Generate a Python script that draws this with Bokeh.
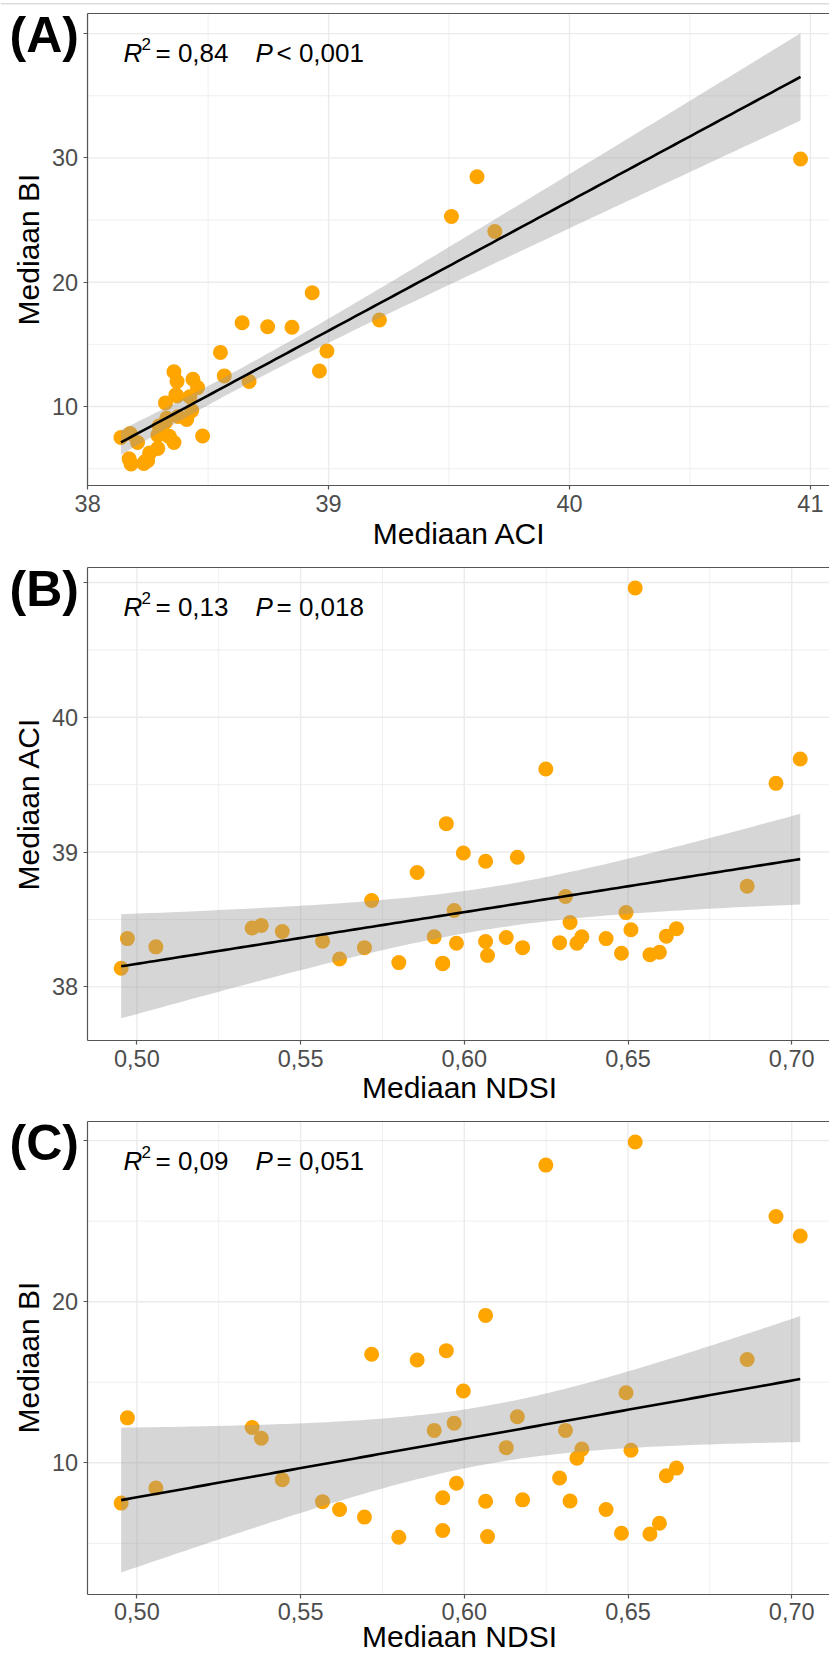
import math
import numpy as np
from bokeh.plotting import figure
from bokeh.models import Label, FixedTicker, CustomJSTickFormatter, LinearAxis, Span
from bokeh.layouts import column
from bokeh.embed import file_html
from bokeh.resources import INLINE

# ---------------- data (one entry per site) ----------------
ndsi = [0.4952, 0.4971, 0.5058, 0.5352, 0.5380, 0.5444, 0.5567, 0.5619, 0.5695, 0.5717,
        0.5800, 0.5856, 0.5908, 0.5934, 0.5934, 0.5945, 0.5969, 0.5976, 0.5997, 0.6065,
        0.6065, 0.6071, 0.6128, 0.6162, 0.6178, 0.6249, 0.6291, 0.6309, 0.6323, 0.6344,
        0.6359, 0.6433, 0.6480, 0.6494, 0.6509, 0.6522, 0.6567, 0.6596, 0.6617, 0.6648,
        0.6864, 0.6952, 0.7026]
aci = [38.138, 38.358, 38.297, 38.437, 38.456, 38.411, 38.339, 38.207, 38.291, 38.641,
       38.180, 38.848, 38.371, 38.172, 38.176, 39.211, 38.567, 38.323, 38.993, 38.932,
       38.336, 38.233, 38.366, 38.962, 38.291, 39.616, 38.328, 38.670, 38.477, 38.323,
       38.371, 38.358, 38.249, 38.551, 38.424, 40.959, 38.238, 38.257, 38.376, 38.432,
       38.747, 39.510, 39.690]
bi = [7.50, 12.79, 8.44, 12.19, 11.52, 8.95, 7.59, 7.10, 6.63, 16.74,
      5.38, 16.38, 12.01, 5.80, 7.83, 16.96, 12.46, 8.73, 14.46, 19.15,
      7.61, 5.42, 10.94, 12.86, 7.70, 28.48, 9.06, 12.01, 7.63, 10.29,
      10.85, 7.10, 5.63, 14.35, 10.78, 29.91, 5.58, 6.25, 9.20, 9.67,
      16.41, 25.29, 24.08]

# ticks
aci_ticks = [38, 39, 40, 41]
aci_minor = [38.5, 39.5, 40.5]
ndsi_ticks = [0.50, 0.55, 0.60, 0.65, 0.70]
ndsi_minor = [0.525, 0.575, 0.625, 0.675]
bi_ticks_a = [10, 20, 30, 40]
bi_minor_a = [5, 15, 25, 35]
bi_ticks_c = [10, 20, 30]
bi_minor_c = [5, 15, 25]

# axis limits of each panel (x0, x1, y0, y1)
lims_a = (37.998, 41.100, 3.62, 41.64)
lims_b = (0.48482, 0.71307, 37.602, 41.115)
lims_c = (0.48482, 0.71307, 1.850, 31.21)

# texts
tags = ["(A)", "(B)", "(C)"]
r2_vals = ["0,84", "0,13", "0,09"]
p_ops = ["<", "=", "="]
p_vals = ["0,001", "0,018", "0,051"]
x_titles = ["Mediaan ACI", "Mediaan NDSI", "Mediaan NDSI"]
y_titles = ["Mediaan BI", "Mediaan ACI", "Mediaan BI"]

# ---------------- layout constants (page pixels) ----------------
FONT = "Liberation Sans"
W = 829
BOX_L = 86.7      # left border of every panel
BOX_R = 834.0     # right border (outside the page, cropped as in the original)
T_CRIT = 2.0195   # t(0.975, df=41)
ORANGE = "#FFA500"
GRID = "#EBEBEB"
BORDER = "#555555"


def lm_band(x, y, n_pts=120):
    x = np.asarray(x, float)
    y = np.asarray(y, float)
    n = len(x)
    xm, ym = x.mean(), y.mean()
    sxx = ((x - xm) ** 2).sum()
    b1 = ((x - xm) * (y - ym)).sum() / sxx
    b0 = ym - b1 * xm
    resid = y - (b0 + b1 * x)
    s = math.sqrt((resid ** 2).sum() / (n - 2))
    xs = np.linspace(x.min(), x.max(), n_pts)
    fit = b0 + b1 * xs
    half = T_CRIT * s * np.sqrt(1.0 / n + (xs - xm) ** 2 / sxx)
    return xs, fit, fit - half, fit + half


def make_panel(idx, x, y, lims, xt, xmin_t, yt, ymin_t, xcode, ycode,
               canvas_top, canvas_h, box_top, box_bottom):
    x0, x1, y0, y1 = lims
    sx = (BOX_R - BOX_L) / (x1 - x0)
    sy = (box_bottom - box_top) / (y1 - y0)
    canvas_bottom = canvas_top + canvas_h

    def X(px):
        return x0 + (px - BOX_L) / sx

    def Y(py):
        return y1 - (py - box_top) / sy

    p = figure(width=W, height=canvas_h,
               x_range=(X(0), X(W)), y_range=(Y(canvas_bottom), Y(canvas_top)),
               x_axis_type=None, y_axis_type=None,
               output_backend="svg", toolbar_location=None, tools="", title=None,
               min_border=0, min_border_left=0, min_border_right=0,
               min_border_top=0, min_border_bottom=0)
    p.background_fill_color = "white"
    p.border_fill_color = "white"
    p.outline_line_color = None

    # grid lines inside the panel
    def vlines(ticks, width):
        tt = [t for t in ticks if x0 <= t <= x1]
        p.segment(x0=tt, y0=[y0] * len(tt), x1=tt, y1=[y1] * len(tt),
                  line_color=GRID, line_width=width)

    def hlines(ticks, width):
        tt = [t for t in ticks if y0 <= t <= y1]
        p.segment(x0=[x0] * len(tt), y0=tt, x1=[x1] * len(tt), y1=tt,
                  line_color=GRID, line_width=width)

    vlines(xmin_t, 0.8)
    hlines(ymin_t, 0.8)
    vlines(xt, 1.4)
    hlines(yt, 1.4)

    # axes (placed at the panel borders)
    def style(ax):
        ax.axis_line_color = BORDER
        ax.axis_line_width = 1.2
        ax.major_tick_line_color = BORDER
        ax.major_tick_line_width = 1.2
        ax.major_tick_out = 4
        ax.major_tick_in = 0
        ax.minor_tick_line_color = None
        ax.major_label_text_font = FONT
        ax.major_label_text_font_size = "23.5px"
        ax.major_label_text_color = "#4D4D4D"

    yax = LinearAxis(fixed_location=x0, bounds=(y0, y1),
                     ticker=FixedTicker(ticks=yt),
                     formatter=CustomJSTickFormatter(code=ycode))
    style(yax)
    yax.major_label_standoff = 5
    p.add_layout(yax, "left")

    xax = LinearAxis(fixed_location=y0, bounds=(x0, x1),
                     ticker=FixedTicker(ticks=xt),
                     formatter=CustomJSTickFormatter(code=xcode))
    style(xax)
    xax.major_label_standoff = 5
    p.add_layout(xax, "below")

    top = LinearAxis(fixed_location=y1, bounds=(x0, x1),
                     ticker=FixedTicker(ticks=[]))
    style(top)
    top.major_tick_out = 0
    top.major_label_text_font_size = "0px"
    p.add_layout(top, "above")

    # points (under the ribbon, as in the original)
    p.scatter(x, y, size=15, fill_color=ORANGE, line_color=None)
    xs, fit, lo, hi = lm_band(x, y)
    p.varea(x=xs, y1=lo, y2=hi, fill_color="#999999", fill_alpha=0.4)
    p.line(xs, fit, line_color="black", line_width=2.6)

    def lab(px, py, txt, size, style_="normal", angle=0.0, align="left", color="black"):
        p.add_layout(Label(x=X(px), y=Y(py), text=txt, angle=angle,
                           text_font=FONT, text_font_style=style_, text_font_size=size,
                           text_color=color, text_align=align, text_baseline="middle"))

    # tag
    lab(9, box_top + 21.7, tags[idx], "50px", "bold")
    # statistics
    mid = box_top + 40.2
    sup = box_top + 31.2
    lab(123, mid, "R", "26px", "italic")
    lab(141, sup, "2", "17px")
    lab(155, mid, "= " + r2_vals[idx], "26px")
    lab(255, mid, "P", "26px", "italic")
    lab(276, mid, p_ops[idx] + " " + p_vals[idx], "26px")
    # axis titles
    lab(27.8, (box_top + box_bottom) / 2, y_titles[idx], "30px", angle=math.pi / 2, align="center")
    xt_mid = min(box_bottom + 47.2, canvas_bottom - 18)
    lab(459, xt_mid, x_titles[idx], "30px", align="center")
    return p, Y


int_fmt = "return Math.abs(tick - HIDE) < 1e-9 ? '' : tick.toFixed(0);"
comma_fmt = "return tick.toFixed(2).replace('.', ',');"
plain_int = "return tick.toFixed(0);"

H_A, H_B, H_C = 552, 554, 548
top_a = 0
top_b = top_a + H_A
top_c = top_b + H_B

pA, YA = make_panel(0, aci, bi, lims_a, aci_ticks, aci_minor, bi_ticks_a, bi_minor_a,
                    plain_int, int_fmt.replace("HIDE", "40"), top_a, H_A, 12.7, 485.3)
pB, _ = make_panel(1, ndsi, aci, lims_b, ndsi_ticks, ndsi_minor, aci_ticks, aci_minor,
                   comma_fmt, int_fmt.replace("HIDE", "41"), top_b, H_B, 566.5, 1040.0)
pC, _ = make_panel(2, ndsi, bi, lims_c, ndsi_ticks, ndsi_minor, bi_ticks_c, bi_minor_c,
                   comma_fmt, int_fmt.replace("HIDE", "30"), top_c, H_C, 1120.6, 1593.6)

# thin light rule at the very top of the original image
pA.add_layout(Span(location=YA(3.3), dimension="width", line_color="#DDDDDD", line_width=1.5))

layout = column(pA, pB, pC, spacing=0)
open("out.html", "w").write(file_html(layout, INLINE))
